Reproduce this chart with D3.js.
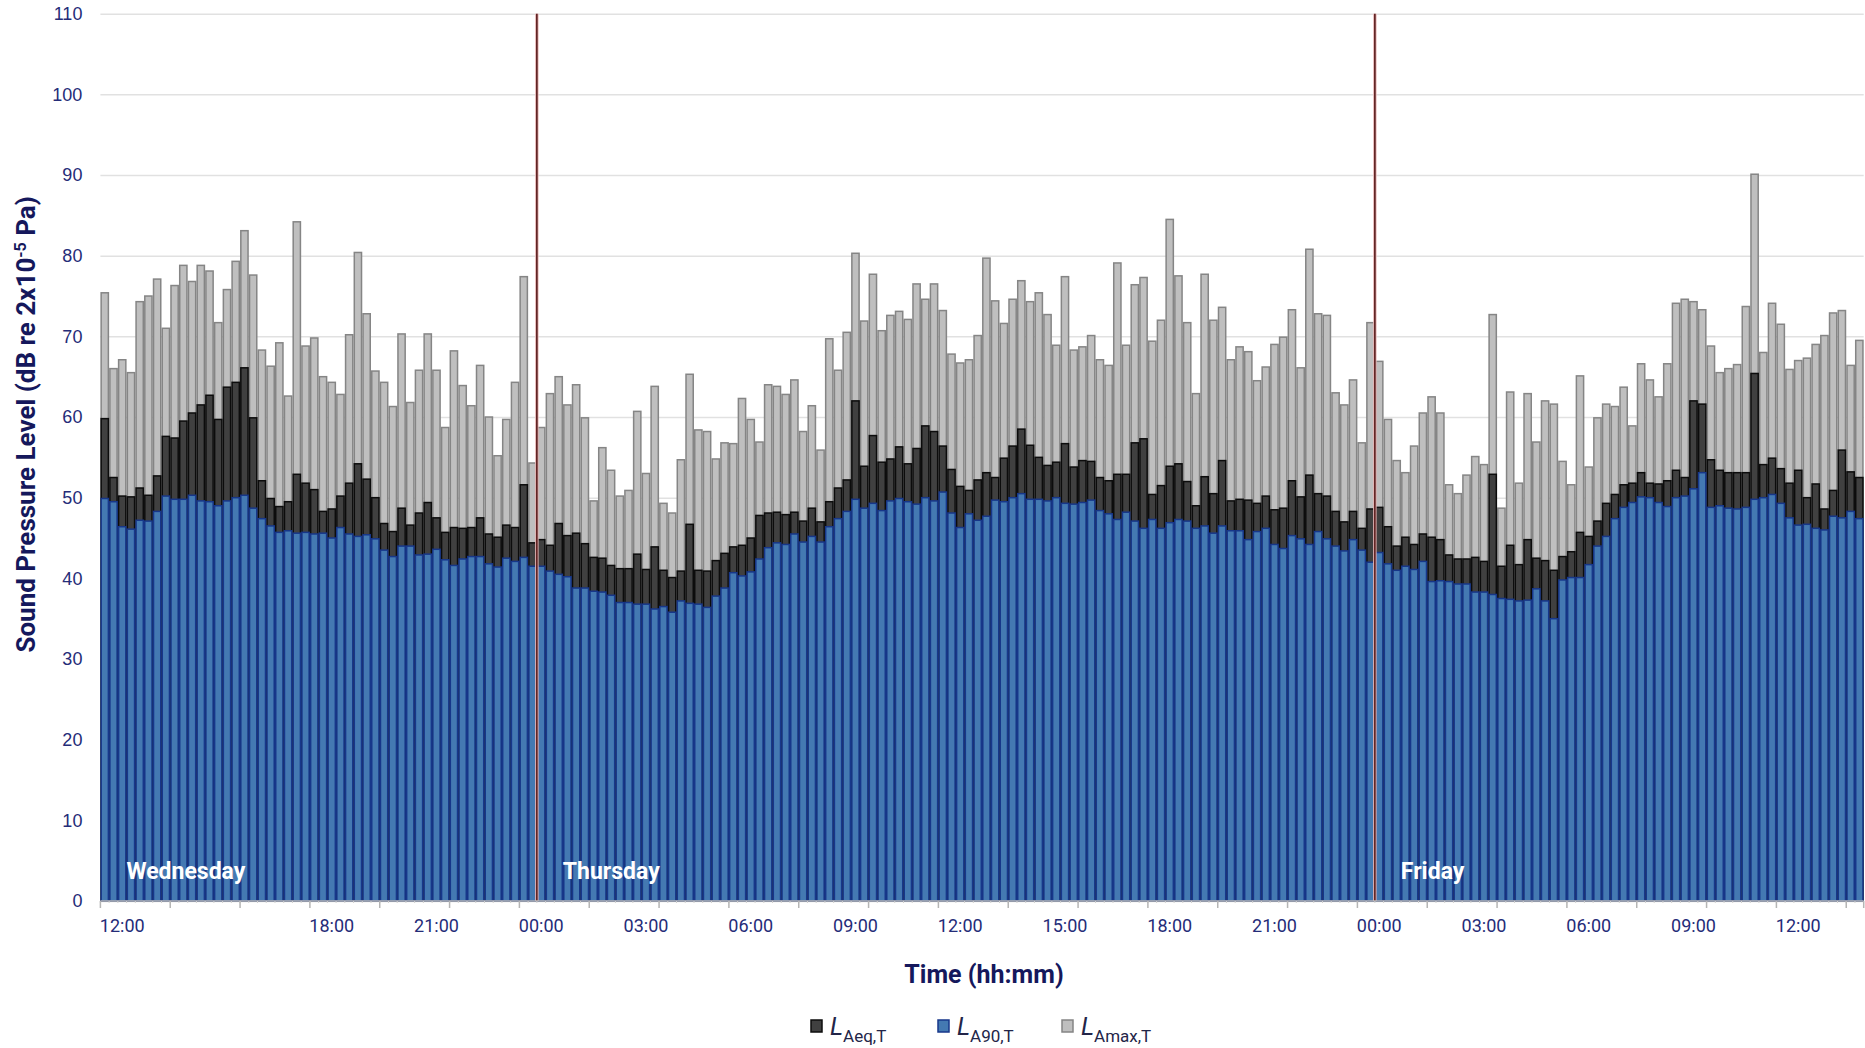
<!DOCTYPE html>
<html>
<head>
<meta charset="utf-8">
<script src="https://cdn.jsdelivr.net/npm/d3@7"></script>
<style>
  body { margin: 0; background: #fff; }
  svg { display: block; font-family: 'Roboto', 'Liberation Sans Narrow', sans-serif; }
</style>
</head>
<body>
<div id="chart"></div>
<script>
// 15 minute intervals, first interval starts Wednesday 11:30
const startTime = { h: 11, m: 30 };
const intervalMin = 15;

const lAmax = [75.4,66.0,67.1,65.5,74.3,75.0,77.1,71.0,76.3,78.8,76.8,78.8,78.1,71.7,75.8,79.3,83.1,77.6,68.3,66.3,69.2,62.6,84.2,68.8,69.8,65.0,64.3,62.8,70.2,80.4,72.8,65.7,64.3,61.3,
  70.3,61.8,65.8,70.3,65.8,58.7,68.2,63.9,61.4,66.4,60.0,55.2,59.7,64.3,77.4,54.3,58.7,62.9,65.0,61.5,64.0,59.9,49.6,56.2,53.4,50.2,50.9,60.7,53.0,63.8,49.3,48.1,54.7,65.3,
  58.4,58.2,54.8,56.8,56.7,62.3,59.7,56.9,64.0,63.8,62.8,64.6,58.2,61.4,55.9,69.7,65.8,70.5,80.3,71.9,77.7,70.7,72.6,73.1,72.1,76.5,74.6,76.5,73.2,67.8,66.7,67.1,70.1,79.7,74.4,
  71.6,74.6,76.9,74.3,75.4,72.7,68.9,77.4,68.3,68.7,70.1,67.1,66.4,79.1,68.9,76.4,77.3,69.4,72.0,84.5,77.5,71.7,62.9,77.7,72.0,73.6,67.1,68.7,68.1,64.5,66.2,69.0,69.9,73.3,
  66.1,80.8,72.8,72.6,63.0,61.5,64.6,56.8,71.7,66.9,59.7,54.6,53.1,56.4,60.5,62.5,60.5,51.6,50.5,52.8,55.1,54.1,72.7,48.7,63.1,51.8,62.9,56.9,62.0,61.6,54.5,51.6,65.1,53.8,59.9,
  61.6,61.3,63.7,58.9,66.6,64.6,62.5,66.6,74.1,74.6,74.3,73.3,68.8,65.5,66.0,66.5,73.7,90.1,68.0,74.1,71.5,65.9,67.0,67.3,69.0,70.1,72.9,73.2,66.4,69.5];

const lAeq = [59.8,52.5,50.2,50.1,51.2,50.3,52.7,57.6,57.4,59.5,60.5,61.5,62.7,59.7,63.7,64.3,66.1,59.9,52.1,49.9,48.9,49.5,52.9,51.8,51.0,48.3,48.6,50.2,51.8,54.2,52.3,50.0,46.8,45.8,
  48.7,46.6,48.1,49.4,47.5,45.7,46.3,46.2,46.3,47.5,45.5,45.1,46.6,46.3,51.6,44.4,44.8,44.1,46.8,45.3,45.6,44.3,42.6,42.5,41.6,41.2,41.2,43.0,41.1,43.9,41.0,40.1,40.9,46.7,
  41.0,40.9,42.2,43.1,43.9,44.1,45.0,47.8,48.1,48.2,47.9,48.2,47.1,48.7,47.0,49.5,51.2,52.2,62.0,53.9,57.7,54.4,54.8,56.3,54.2,56.1,58.9,58.2,56.4,53.5,51.4,50.9,52.2,53.1,52.5,
  54.9,56.4,58.5,56.5,55.0,54.0,54.4,56.7,53.8,54.6,54.5,52.5,52.1,52.9,52.9,56.8,57.3,50.4,51.5,53.9,54.2,52.0,49.0,52.6,50.5,54.6,49.6,49.8,49.7,49.3,50.2,48.5,48.7,52.1,
  50.1,52.8,50.5,50.2,48.3,47.0,48.3,46.2,48.6,48.8,46.4,44.0,45.1,44.2,45.5,45.1,44.8,42.9,42.4,42.4,42.6,42.1,52.9,41.5,44.1,41.7,44.8,42.5,42.2,41.0,42.7,43.3,45.7,45.2,47.1,
  49.3,50.4,51.6,51.8,53.1,51.8,51.7,52.1,53.4,52.5,62.0,61.6,54.7,53.4,53.1,53.1,53.1,65.4,54.1,54.9,53.6,51.8,53.4,50.0,51.7,48.6,50.9,55.9,53.2,52.5];

const lA90 = [49.9,49.5,46.4,46.1,47.2,47.1,48.3,50.2,49.8,49.8,50.3,49.6,49.5,49.0,49.6,50.0,50.3,48.7,47.4,46.5,45.7,45.9,45.6,45.7,45.5,45.6,45.0,46.3,45.5,45.2,45.4,44.9,43.5,42.7,
  44.0,44.0,42.9,43.0,43.6,42.3,41.6,42.4,42.7,42.7,41.8,41.4,42.5,42.1,42.6,41.5,41.5,40.9,40.5,40.2,38.8,38.8,38.4,38.3,37.9,37.0,37.0,36.8,36.8,36.2,36.5,35.8,37.2,36.9,
  36.8,36.4,37.8,38.8,40.7,40.3,40.8,42.4,43.8,44.4,44.2,45.5,44.5,45.2,44.5,46.4,47.4,48.3,49.8,48.7,49.3,48.4,49.6,49.9,49.5,49.2,50.0,49.6,50.7,48.1,46.3,48.0,47.2,47.7,49.7,
  49.5,50.0,50.5,49.8,49.8,49.6,50.0,49.3,49.2,49.4,49.7,48.4,48.0,47.3,48.2,47.1,46.2,47.3,46.2,46.9,47.3,47.1,46.2,46.5,45.6,46.5,45.9,45.9,44.8,45.8,46.2,44.2,43.7,45.3,
  44.9,44.2,45.8,44.9,44.0,43.4,44.8,43.5,42.0,43.2,41.8,41.0,41.5,41.1,42.1,39.6,39.7,39.6,39.3,39.3,38.3,38.3,38.0,37.5,37.4,37.2,37.3,38.7,37.2,35.0,39.8,40.1,40.1,41.7,44.0,
  45.2,47.4,48.8,49.4,50.1,50.0,49.4,48.9,50.0,50.2,51.1,53.1,48.8,49.0,48.7,48.6,48.8,49.8,50.0,50.4,49.3,47.5,46.6,46.7,46.2,46.0,47.7,47.5,48.3,47.4];

// x labels every 12 intervals starting at the 12:00 slot (empty = not shown)
const xLabels = ['12:00','','18:00','21:00','00:00','03:00','06:00','09:00','12:00','15:00','18:00','21:00','00:00','03:00','06:00','09:00','12:00'];
const xLabelFirst = 2;
const yTicks = [0,10,20,30,40,50,60,70,80,90,100,110];
const days = ['Wednesday','Thursday','Friday'];
const dayStarts = [0, 50, 146];
const dayLines = [50, 146];

const categories = lA90.map((d, i) => {
  const t = startTime.h * 60 + startTime.m + i * intervalMin;
  const h = Math.floor(t / 60) % 24, m = t % 60;
  return String(h).padStart(2, '0') + ':' + String(m).padStart(2, '0') + '#' + i;
});

const width = 1865, height = 1048;
const margin = { top: 13.7, right: 1.3, bottom: 147, left: 100.4 };
const plotW = width - margin.left - margin.right;
const plotH = height - margin.top - margin.bottom;

const navy = '#252c78';
const titleNavy = '#15185c';

const svg = d3.select('#chart').append('svg')
  .attr('width', width)
  .attr('height', height);

const x = d3.scaleBand().domain(categories).range([0, plotW]).padding(0);
const y = d3.scaleLinear().domain([0, 110]).range([plotH, 0]);

const g = svg.append('g')
  .attr('transform', 'translate(' + margin.left + ',' + margin.top + ')');

// gridlines + y labels
g.append('g')
  .attr('class', 'y axis')
  .call(d3.axisLeft(y).tickValues(yTicks).tickSize(-plotW).tickPadding(18))
  .call(a => a.select('.domain').remove())
  .call(a => a.selectAll('line').attr('stroke', '#e1e1e1').attr('stroke-width', 1.5))
  .call(a => a.selectAll('text').attr('fill', navy).style('font-size', '18px'));

const series = [
  { key: 'max', values: lAmax, fill: '#bfbfbf', stroke: '#858585' },
  { key: 'eq', values: lAeq, fill: '#404040', stroke: '#0c0c0c' },
  { key: '90', values: lA90, fill: '#4479b2', stroke: '#17378a' }
];

series.forEach(s => {
  g.append('g').selectAll('rect')
    .data(s.values)
    .enter().append('rect')
    .attr('x', (d, i) => x(categories[i]) + 0.75)
    .attr('width', x.bandwidth() - 1.5)
    .attr('y', d => y(d))
    .attr('height', d => y(0) - y(d))
    .attr('fill', s.fill)
    .attr('stroke', s.stroke)
    .attr('stroke-width', 1.5);
});

// day separators
g.selectAll('.dayline')
  .data(dayLines)
  .enter().append('line')
  .attr('x1', d => x(categories[d]))
  .attr('x2', d => x(categories[d]))
  .attr('y1', 0)
  .attr('y2', plotH)
  .attr('stroke', '#e8b8b8')
  .attr('stroke-width', 3.5);
g.selectAll('.dayline2')
  .data(dayLines)
  .enter().append('line')
  .attr('x1', d => x(categories[d]))
  .attr('x2', d => x(categories[d]))
  .attr('y1', 0)
  .attr('y2', plotH)
  .attr('stroke', '#5a1c1c')
  .attr('stroke-width', 1.6);

// day names inside the bars
g.selectAll('.day')
  .data(days)
  .enter().append('text')
  .attr('x', (d, i) => x(categories[dayStarts[i]]) + 26)
  .attr('y', plotH - 22)
  .attr('fill', '#fff')
  .style('font-size', '23px')
  .style('font-weight', 'bold')
  .text(d => d);

// x axis line, ticks every 8 intervals
const xa = g.append('g').attr('transform', 'translate(0,' + plotH + ')');
xa.append('line').attr('x1', 0).attr('x2', plotW).attr('stroke', '#bdbdbd').attr('stroke-width', 1.5);
xa.selectAll('.minor')
  .data(categories)
  .enter().append('line')
  .attr('x1', d => x(d)).attr('x2', d => x(d))
  .attr('y1', 0).attr('y2', 2)
  .attr('stroke', '#cfcfcf');
const majorIdx = d3.range(0, categories.length + 1, 8).concat([categories.length]);
xa.selectAll('.major')
  .data(majorIdx)
  .enter().append('line')
  .attr('x1', d => d * x.step()).attr('x2', d => d * x.step())
  .attr('y1', 0).attr('y2', 7)
  .attr('stroke', '#b5b5b5').attr('stroke-width', 1.5);
xa.selectAll('.xl')
  .data(xLabels)
  .enter().append('text')
  .attr('x', (d, i) => x(categories[xLabelFirst + i * 12]) + x.bandwidth() / 2)
  .attr('y', 31)
  .attr('text-anchor', 'middle')
  .attr('fill', navy)
  .style('font-size', '18px')
  .text(d => d);

// axis titles
svg.append('text')
  .attr('transform', 'translate(35,' + (margin.top + plotH / 2 - 33) + ') rotate(-90)')
  .attr('text-anchor', 'middle')
  .attr('fill', titleNavy)
  .style('font-size', '26px')
  .style('font-weight', 'bold')
  .text('Sound Pressure Level (dB re 2x10')
  .append('tspan').attr('dy', -9).style('font-size', '16px').text('-5')
  .select(function () { return this.parentNode; })
  .append('tspan').attr('dy', 9).text(' Pa)');

svg.append('text')
  .attr('x', margin.left + plotW / 2 + 2)
  .attr('y', 983)
  .attr('text-anchor', 'middle')
  .attr('fill', titleNavy)
  .style('font-size', '25px')
  .style('font-weight', 'bold')
  .text('Time (hh:mm)');

// legend
const legendItems = [
  { sub: 'Aeq,T', fill: '#404040', stroke: '#0c0c0c', x: 811 },
  { sub: 'A90,T', fill: '#4479b2', stroke: '#17378a', x: 938 },
  { sub: 'Amax,T', fill: '#bfbfbf', stroke: '#858585', x: 1062 }
];
const lg = svg.append('g').selectAll('g')
  .data(legendItems)
  .enter().append('g')
  .attr('transform', d => 'translate(' + d.x + ',1020)');
lg.append('rect')
  .attr('width', 11).attr('height', 12)
  .attr('fill', d => d.fill).attr('stroke', d => d.stroke).attr('stroke-width', 1.5);
const lt = lg.append('text')
  .attr('x', 19).attr('y', 15)
  .attr('fill', '#232548');
lt.append('tspan').style('font-size', '25px').style('font-style', 'italic').text('L');
lt.append('tspan').attr('dy', 7).style('font-size', '17px').text(d => d.sub);
</script>
</body>
</html>
